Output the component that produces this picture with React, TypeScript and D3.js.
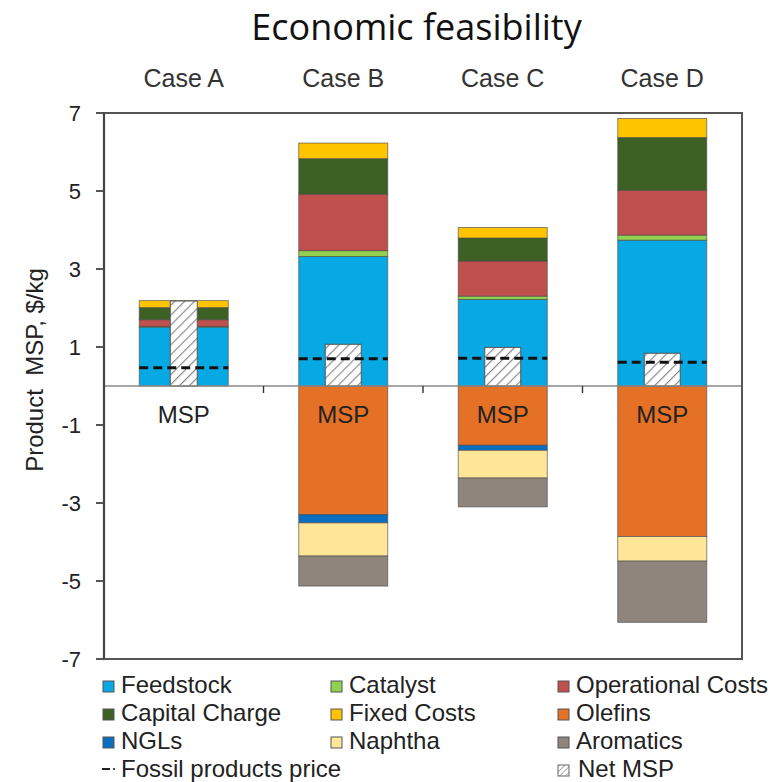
import React from "react";
import * as d3 from "d3";

const cases = ["Case A", "Case B", "Case C", "Case D"];
const feedstock = [1.51, 3.32, 2.22, 3.74];
const catalyst = [0.02, 0.15, 0.085, 0.13];
const operationalCosts = [0.17, 1.45, 0.9, 1.15];
const capitalCharge = [0.31, 0.91, 0.59, 1.35];
const fixedCosts = [0.18, 0.4, 0.27, 0.49];
const olefins = [0, -3.3, -1.52, -3.86];
const ngls = [0, -0.21, -0.13, 0];
const naphtha = [0, -0.85, -0.71, -0.63];
const aromatics = [0, -0.77, -0.74, -1.57];
const netMsp = [2.18, 1.07, 0.99, 0.84];
const fossilPrice = [0.47, 0.7, 0.71, 0.61];
const yTicks = [7, 5, 3, 1, -1, -3, -5, -7];

const seriesKeys = [
  "Feedstock",
  "Catalyst",
  "Operational Costs",
  "Capital Charge",
  "Fixed Costs",
  "Olefins",
  "NGLs",
  "Naphtha",
  "Aromatics",
];
const seriesValues = [
  feedstock,
  catalyst,
  operationalCosts,
  capitalCharge,
  fixedCosts,
  olefins,
  ngls,
  naphtha,
  aromatics,
];
const colors: Record<string, string> = {
  Feedstock: "#07a9e4",
  Catalyst: "#92d050",
  "Operational Costs": "#c0504d",
  "Capital Charge": "#3d6125",
  "Fixed Costs": "#ffc400",
  Olefins: "#e47126",
  NGLs: "#0a6fc2",
  Naphtha: "#ffe699",
  Aromatics: "#8f857c",
};

const legendRows = [
  ["Feedstock", "Catalyst", "Operational Costs"],
  ["Capital Charge", "Fixed Costs", "Olefins"],
  ["NGLs", "Naphtha", "Aromatics"],
];

const W = 777;
const H = 782;
const left = 104;
const right = 742;
const FONT = "'Liberation Sans', Arial, sans-serif";

export default function App() {
  const x = d3
    .scaleBand<string>()
    .domain(cases)
    .range([left, right])
    .paddingInner(0.442)
    .paddingOuter(0.221);
  const y = d3.scaleLinear().domain([-7, 7]).range([659, 113]);

  const table = cases.map((c, i) => {
    const row: Record<string, any> = { case: c };
    seriesKeys.forEach((k, j) => (row[k] = seriesValues[j][i]));
    return row;
  });
  const stack = d3
    .stack<any>()
    .keys(seriesKeys)
    .offset(d3.stackOffsetDiverging);
  const stacked = stack(table);

  const bw = x.bandwidth();
  const netWidths = [27, 36, 36, 36];
  const step = x.step();
  const boundaries = [1, 2, 3].map((i) => left + step * i);

  const colX = [103, 331, 558];
  const rowY = [693, 721, 749, 777];

  return (
    <svg
      width={W}
      height={H}
      style={{ position: "absolute", left: 0, top: 0, background: "#fff" }}
      fontFamily={FONT}
    >
      <defs>
        <pattern
          id="hatch"
          patternUnits="userSpaceOnUse"
          width={7}
          height={7}
          patternTransform="rotate(45)"
        >
          <rect width={7} height={7} fill="#fff" />
          <line x1={0} y1={0} x2={0} y2={7} stroke="#8a8a8a" strokeWidth={2.4} />
        </pattern>
        <pattern
          id="hatchSmall"
          patternUnits="userSpaceOnUse"
          width={4}
          height={4}
          patternTransform="rotate(45)"
        >
          <rect width={4} height={4} fill="#fff" />
          <line x1={0} y1={0} x2={0} y2={4} stroke="#888" strokeWidth={1.4} />
        </pattern>
      </defs>

      <text
        x={416.5}
        y={40}
        textAnchor="middle"
        fontFamily="'Open Sans', sans-serif"
        fontSize={36}
        fill="#111"
      >
        Economic feasibility
      </text>

      {cases.map((c) => (
        <text
          key={c}
          x={(x(c) as number) + bw / 2}
          y={87}
          textAnchor="middle"
          fontSize={25}
          fill="#333"
        >
          {c}
        </text>
      ))}

      {/* stacked bars */}
      {stacked.map((s) => (
        <g key={s.key} fill={colors[s.key]}>
          {s.map((d, i) => {
            const h = Math.abs(y(d[0]) - y(d[1]));
            if (h < 0.01) return null;
            return (
              <rect
                key={i}
                x={x(cases[i]) as number}
                y={Math.min(y(d[0]), y(d[1]))}
                width={bw}
                height={h}
                stroke="#4a4a4a"
                strokeOpacity={0.7}
                strokeWidth={0.9}
              />
            );
          })}
        </g>
      ))}

      {/* net MSP hatched bars */}
      {cases.map((c, i) => {
        const cx = (x(c) as number) + bw / 2;
        const w = netWidths[i];
        return (
          <rect
            key={c}
            x={cx - w / 2}
            y={y(netMsp[i])}
            width={w}
            height={y(0) - y(netMsp[i])}
            fill="url(#hatch)"
            stroke="#555"
            strokeWidth={1}
          />
        );
      })}

      {/* fossil price dashed lines */}
      {cases.map((c, i) => (
        <line
          key={c}
          x1={x(c) as number}
          x2={(x(c) as number) + bw}
          y1={y(fossilPrice[i])}
          y2={y(fossilPrice[i])}
          stroke="#111"
          strokeWidth={3}
          strokeDasharray="9,5"
        />
      ))}

      {/* MSP labels */}
      {cases.map((c) => (
        <text
          key={c}
          x={(x(c) as number) + bw / 2}
          y={423}
          textAnchor="middle"
          fontSize={24}
          fill="#222"
        >
          MSP
        </text>
      ))}

      {/* zero line */}
      <line x1={left} x2={right} y1={y(0)} y2={y(0)} stroke="#8a8a8a" strokeWidth={1.6} />
      {boundaries.map((bx, i) => (
        <line key={i} x1={bx} x2={bx} y1={y(0)} y2={y(0) + 7} stroke="#333" strokeWidth={1.4} />
      ))}

      {/* frame */}
      <rect
        x={left}
        y={y(7)}
        width={right - left}
        height={y(-7) - y(7)}
        fill="none"
        stroke="#555"
        strokeWidth={2}
      />
      <line x1={left} x2={left} y1={y(7)} y2={y(-7)} stroke="#444" strokeWidth={2.2} />

      {/* y ticks */}
      {yTicks.map((t) => (
        <g key={t}>
          <line x1={left - 8} x2={left} y1={y(t)} y2={y(t)} stroke="#444" strokeWidth={1.8} />
          <text
            x={81}
            y={y(t)}
            dy="0.36em"
            textAnchor="end"
            fontSize={22}
            fill="#222"
          >
            {t}
          </text>
        </g>
      ))}

      <text
        transform={`translate(43,370) rotate(-90)`}
        textAnchor="middle"
        fontSize={24}
        fill="#222"
        style={{ whiteSpace: "pre" }}
      >
        {"Product  MSP, $/kg"}
      </text>

      {/* legend */}
      {legendRows.map((row, ri) =>
        row.map((k, ci) => (
          <g key={k}>
            <rect
              x={colX[ci]}
              y={rowY[ri] - 12}
              width={11}
              height={11}
              fill={colors[k]}
              stroke="#555"
              strokeWidth={1}
            />
            <text x={colX[ci] + 18} y={rowY[ri]} fontSize={24} fill="#222">
              {k}
            </text>
          </g>
        ))
      )}
      <g>
        <line x1={102} x2={110} y1={rowY[3] - 8} y2={rowY[3] - 8} stroke="#222" strokeWidth={2} />
        <circle cx={114} cy={rowY[3] - 8} r={1.1} fill="#222" />
        <text x={121} y={rowY[3]} fontSize={24} fill="#222">
          Fossil products price
        </text>
      </g>
      <g>
        <rect
          x={colX[2]}
          y={rowY[3] - 12}
          width={11}
          height={11}
          fill="url(#hatchSmall)"
          stroke="#666"
          strokeWidth={1}
        />
        <text x={colX[2] + 20} y={rowY[3]} fontSize={24} fill="#222">
          Net MSP
        </text>
      </g>
    </svg>
  );
}
